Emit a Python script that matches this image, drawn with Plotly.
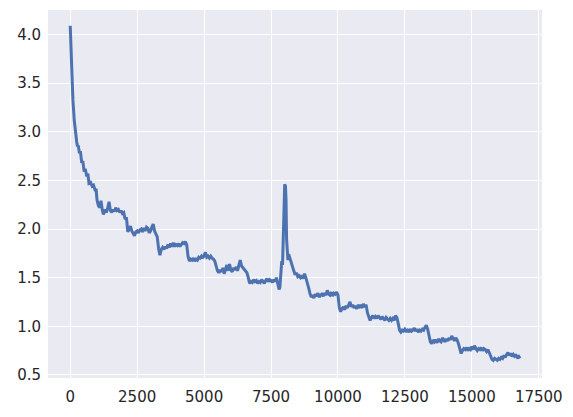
import plotly.graph_objects as go

steps = [0, 35, 65, 100, 150, 200, 240, 270, 300, 345, 380, 430, 470, 520, 560, 620, 660, 700, 760, 820, 870, 930, 970,
         1000, 1050, 1100, 1150, 1200, 1240, 1300, 1350, 1400, 1450, 1500, 1550, 1600, 1650, 1700, 1750, 1800, 1850, 1900, 1950,
         2000, 2050, 2100, 2150, 2200, 2250, 2300, 2350, 2400, 2450, 2500, 2550, 2600, 2650, 2700, 2750, 2800, 2850, 2900, 2950,
         3000, 3050, 3100, 3150, 3200, 3250, 3300, 3350, 3400, 3450, 3500, 3550, 3600, 3650, 3700, 3750, 3800, 3850, 3900, 3950,
         4000, 4050, 4100, 4150, 4200, 4250, 4300, 4350, 4400, 4450, 4500, 4550, 4600, 4650, 4700, 4750, 4800, 4850, 4900, 4950,
         5000, 5050, 5100, 5150, 5200, 5250, 5300, 5350, 5400, 5450, 5500, 5550, 5600, 5650, 5700, 5750, 5800, 5850, 5900, 5950,
         6000, 6050, 6100, 6150, 6200, 6250, 6300, 6350, 6400, 6450, 6500, 6550, 6600, 6650, 6700, 6750, 6800, 6850, 6900, 6950,
         7000, 7050, 7100, 7150, 7200, 7250, 7300, 7350, 7400, 7450, 7500, 7550, 7600, 7650, 7700, 7750, 7800, 7830, 7860, 7900,
         7930, 7960, 7980, 8010, 8040, 8060, 8080, 8100, 8130, 8160, 8200, 8250, 8300, 8350, 8400, 8450, 8500, 8550, 8600, 8650,
         8700, 8750, 8800, 8850, 8900, 8950, 9000, 9050, 9100, 9150, 9200, 9250, 9300, 9350, 9400, 9450, 9500, 9550, 9600, 9650,
         9700, 9750, 9800, 9850, 9900, 9950, 10000, 10050, 10100, 10150, 10200, 10250, 10300, 10350, 10400, 10450, 10500, 10550,
         10600, 10650, 10700, 10750, 10800, 10850, 10900, 10950, 11000, 11050, 11100, 11150, 11200, 11250, 11300, 11350, 11400,
         11450, 11500, 11550, 11600, 11650, 11700, 11750, 11800, 11850, 11900, 11950, 12000, 12050, 12100, 12150, 12200, 12250,
         12300, 12350, 12400, 12450, 12500, 12550, 12600, 12650, 12700, 12750, 12800, 12850, 12900, 12950, 13000, 13050, 13100,
         13150, 13200, 13250, 13300, 13350, 13400, 13450, 13500, 13550, 13600, 13650, 13700, 13750, 13800, 13850, 13900, 13950,
         14000, 14050, 14100, 14150, 14200, 14250, 14300, 14350, 14400, 14450, 14500, 14550, 14600, 14650, 14700, 14750, 14800,
         14850, 14900, 14950, 15000, 15050, 15100, 15150, 15200, 15250, 15300, 15350, 15400, 15450, 15500, 15550, 15600, 15650,
         15700, 15750, 15800, 15850, 15900, 15950, 16000, 16050, 16100, 16150, 16200, 16250, 16300, 16350, 16400, 16450, 16500,
         16550, 16600, 16650, 16700, 16750, 16800]

loss = [4.09, 3.80, 3.57, 3.33, 3.12, 2.95, 2.90, 2.85, 2.86, 2.78, 2.80, 2.68, 2.70, 2.59, 2.62, 2.54, 2.57, 2.47, 2.48, 2.44, 2.45, 2.40, 2.40,
        2.30, 2.24, 2.22, 2.29, 2.19, 2.15, 2.20, 2.17, 2.22, 2.28, 2.19, 2.17, 2.20, 2.18, 2.22, 2.19, 2.20, 2.17, 2.19, 2.16,
        2.17, 2.10, 2.12, 1.97, 2.00, 2.03, 1.98, 1.96, 1.93, 1.97, 1.98, 1.96, 1.99, 2.00, 1.97, 2.01, 1.98, 2.02, 2.01, 1.96,
        1.98, 2.02, 2.05, 1.98, 1.95, 1.92, 1.80, 1.73, 1.79, 1.81, 1.79, 1.82, 1.80, 1.84, 1.81, 1.85, 1.82, 1.86, 1.82, 1.84,
        1.83, 1.85, 1.82, 1.84, 1.86, 1.85, 1.87, 1.84, 1.72, 1.67, 1.69, 1.68, 1.70, 1.67, 1.69, 1.68, 1.71, 1.70, 1.72, 1.70,
        1.74, 1.76, 1.71, 1.72, 1.70, 1.72, 1.70, 1.69, 1.67, 1.62, 1.57, 1.55, 1.58, 1.56, 1.60, 1.54, 1.58, 1.63, 1.57, 1.64,
        1.58, 1.56, 1.60, 1.58, 1.61, 1.57, 1.63, 1.68, 1.62, 1.60, 1.58, 1.57, 1.55, 1.50, 1.44, 1.46, 1.45, 1.48, 1.46, 1.47,
        1.44, 1.46, 1.45, 1.48, 1.46, 1.44, 1.47, 1.49, 1.46, 1.48, 1.47, 1.45, 1.48, 1.46, 1.50, 1.44, 1.38, 1.40, 1.58, 1.67,
        1.63, 2.10, 2.43, 2.46, 2.44, 2.30, 1.90, 1.72, 1.68, 1.74, 1.70, 1.67, 1.62, 1.57, 1.53, 1.55, 1.51, 1.52, 1.50, 1.52,
        1.49, 1.54, 1.50, 1.46, 1.40, 1.34, 1.30, 1.32, 1.29, 1.33, 1.31, 1.34, 1.30, 1.32, 1.33, 1.31, 1.34, 1.32, 1.37, 1.33,
        1.32, 1.35, 1.31, 1.34, 1.33, 1.35, 1.32, 1.19, 1.15, 1.18, 1.20, 1.17, 1.21, 1.19, 1.23, 1.25, 1.20, 1.22,
        1.19, 1.21, 1.18, 1.22, 1.20, 1.21, 1.19, 1.23, 1.20, 1.22, 1.14, 1.10, 1.06, 1.09, 1.11, 1.08, 1.10,
        1.08, 1.11, 1.09, 1.07, 1.10, 1.08, 1.06, 1.09, 1.07, 1.06, 1.08, 1.06, 1.08, 1.06, 1.11, 1.09, 1.03,
        0.96, 0.94, 0.96, 0.95, 0.97, 0.95, 0.96, 0.94, 0.97, 0.95, 0.96, 0.98, 0.95, 0.97, 0.94, 0.96, 0.95,
        0.97, 0.96, 0.99, 1.01, 0.97, 0.88, 0.84, 0.82, 0.86, 0.84, 0.86, 0.83, 0.87, 0.85, 0.84, 0.88, 0.86,
        0.84, 0.87, 0.85, 0.88, 0.86, 0.90, 0.87, 0.85, 0.88, 0.86, 0.82, 0.76, 0.72, 0.75, 0.77, 0.76, 0.78,
        0.75, 0.77, 0.76, 0.79, 0.76, 0.80, 0.77, 0.75, 0.77, 0.76, 0.78, 0.75, 0.77, 0.76, 0.74, 0.76, 0.73,
        0.69, 0.66, 0.65, 0.67, 0.66, 0.65, 0.67, 0.66, 0.68, 0.67, 0.70, 0.68, 0.71, 0.73, 0.70, 0.72, 0.69,
        0.71, 0.69, 0.70, 0.68, 0.69, 0.67]

x_ticks = [0, 2500, 5000, 7500, 10000, 12500, 15000, 17500]
y_ticks = [0.5, 1.0, 1.5, 2.0, 2.5, 3.0, 3.5, 4.0]

fig = go.Figure()
fig.add_trace(go.Scatter(x=steps, y=loss, mode="lines",
                         line=dict(color="#4C72B0", width=3), hoverinfo="skip"))

font = dict(family="DejaVu Sans", size=15, color="#262626")
# page body has an 8px default margin, so the figure is placed at (8, 8)
fig.update_layout(
    width=573, height=417,
    margin=dict(l=40, r=39, t=2, b=47, autoexpand=False),
    paper_bgcolor="white", plot_bgcolor="#EAEAF2",
    showlegend=False, font=font,
)
fig.update_xaxes(range=[-830, 17620], tickvals=x_ticks, ticktext=[str(v) for v in x_ticks],
                 showgrid=True, gridcolor="white", gridwidth=1.3, zeroline=False, showline=False,
                 ticks="outside", ticklen=5, tickcolor="rgba(0,0,0,0)", tickfont=font)
fig.update_yaxes(range=[0.468, 4.252], tickvals=y_ticks, ticktext=[f"{v:.1f}" for v in y_ticks],
                 showgrid=True, gridcolor="white", gridwidth=1.3, zeroline=False, showline=False,
                 ticks="outside", ticklen=3, tickcolor="rgba(0,0,0,0)", tickfont=font)

fig.write_html("out.html")
